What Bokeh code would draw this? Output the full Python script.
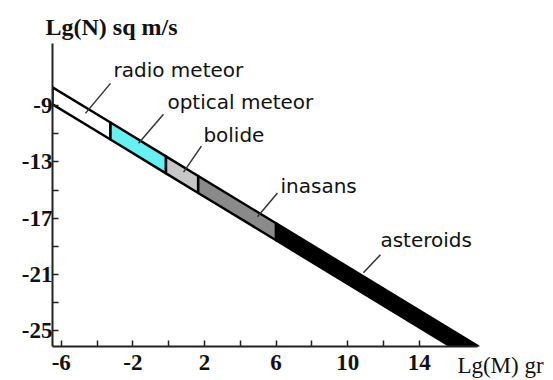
from bokeh.plotting import figure
from bokeh.models import Label, FixedTicker, Range1d, Title
from bokeh.embed import file_html
from bokeh.resources import INLINE

# ---- data ----
segments = ["radio meteor", "optical meteor", "bolide", "inasans", "asteroids"]
seg_colors = ["#ffffff", "#66f0f2", "#c6c6c6", "#8a8a8a", "#000000"]
x_bounds = [-6.49, -3.25, -0.15, 1.65, 6.0, 17.3]          # Lg(M) at segment borders
upper_y = [-7.68, -10.19, -12.60, -14.00, -17.37, -26.14]   # upper edge of band
lower_y = [-8.89, -11.40, -13.81, -15.21, -18.58, -27.35]   # lower edge of band

x_major = [-6, -2, 2, 6, 10, 14]
x_minor = [-4, 0, 4, 8, 12]
y_major = [-9, -13, -17, -21, -25]
y_minor = [-11, -15, -19, -23]
x_axis_end = 17.25

# annotation placement (label anchor and leader line ends)
label_x = [-3.08, -0.07, 1.94, 6.25, 11.83]
label_y = [-6.47, -8.75, -11.09, -14.71, -18.55]
lead_x0 = [-4.65, -1.68, 0.83, 4.96, 10.88]
lead_y0 = [-9.54, -11.66, -13.72, -16.91, -20.89]
lead_x1 = [-3.25, -0.29, 1.83, 6.08, 11.83]
lead_y1 = [-7.40, -9.60, -11.87, -15.21, -19.61]

p = figure(width=553, height=380,
           x_range=Range1d(-6.49, 18.54), y_range=Range1d(-26.15, -4.56),
           output_backend="svg", toolbar_location=None,
           min_border_left=52, min_border_right=53,
           min_border_top=43, min_border_bottom=33)
p.outline_line_color = None
p.xgrid.visible = False
p.ygrid.visible = False
p.background_fill_color = "white"
p.border_fill_color = "white"

xs, ys = [], []
for i in range(len(segments)):
    xs.append([x_bounds[i], x_bounds[i + 1], x_bounds[i + 1], x_bounds[i]])
    ys.append([upper_y[i], upper_y[i + 1], lower_y[i + 1], lower_y[i]])
p.patches(xs, ys, fill_color=seg_colors, line_color="black", line_width=2.5,
          line_join="round")

p.segment(x0=lead_x0, y0=lead_y0, x1=lead_x1, y1=lead_y1,
          line_color="#333333", line_width=1.5)

for name, lx, ly in zip(segments, label_x, label_y):
    p.add_layout(Label(x=lx, y=ly, text=name, text_font="DejaVu Sans",
                       text_font_size="20px", text_baseline="middle",
                       text_align="left", text_color="#111111"))

for ax in (p.xaxis[0], p.yaxis[0]):
    ax.axis_line_color = "#222222"
    ax.axis_line_width = 2
    ax.major_tick_line_color = "#222222"
    ax.minor_tick_line_color = "#222222"
    ax.major_tick_line_width = 1.5
    ax.minor_tick_line_width = 1.5
    ax.major_tick_out = 0
    ax.major_tick_in = 6
    ax.minor_tick_out = 0
    ax.minor_tick_in = 6
    ax.major_label_text_font = "Liberation Serif"
    ax.major_label_text_font_style = "bold"
    ax.major_label_text_font_size = "23px"
    ax.major_label_text_color = "#111111"

p.xaxis.major_label_standoff = 8
p.yaxis.major_label_standoff = 0
p.xaxis.ticker = FixedTicker(ticks=x_major, minor_ticks=x_minor)
p.yaxis.ticker = FixedTicker(ticks=y_major, minor_ticks=y_minor)
p.xaxis.major_label_overrides = {v: str(v) for v in x_major}
p.yaxis.major_label_overrides = {v: str(v) for v in y_major}
p.xaxis.bounds = (-6.49, x_axis_end)

# x axis title at lower right
p.xaxis.axis_label = "Lg(M) gr"
p.xaxis.axis_label_text_font = "Liberation Serif"
p.xaxis.axis_label_text_font_style = "normal"
p.xaxis.axis_label_text_font_size = "23px"
p.xaxis.axis_label_text_color = "#111111"
p.xaxis.axis_label_standoff = -20
p.xaxis.axis_label_align = "end"

# y axis title at top left
p.add_layout(Title(text="Lg(N) sq m/s", align="left", offset=-7, standoff=8,
                   text_font="Liberation Serif", text_font_style="bold",
                   text_font_size="24px", text_color="#111111"), "above")

open("out.html", "w").write(file_html(p, INLINE))
